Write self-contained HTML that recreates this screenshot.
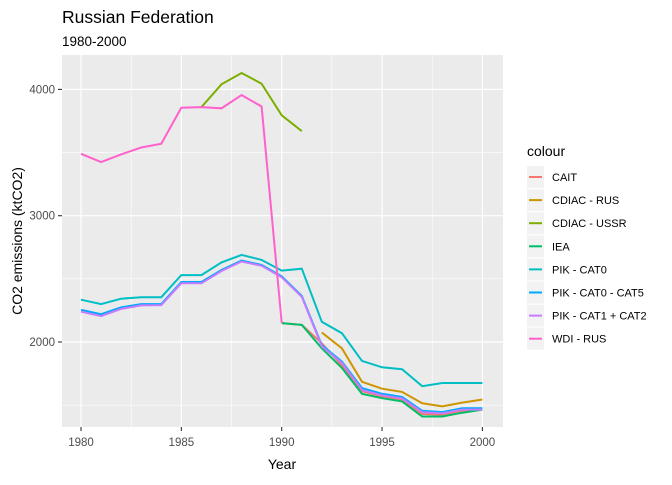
<!DOCTYPE html>
<html><head><meta charset="utf-8"><style>
body{margin:0;background:#fff;font-family:"Liberation Sans",Arial,sans-serif;}
svg text{font-family:"Liberation Sans",Arial,sans-serif;}
</style></head><body>
<svg id="chart" width="672" height="480">
<rect width="672" height="480" fill="#fff"/>
<text x="62" y="23" font-size="17.5" fill="#000">Russian Federation</text>
<text x="62" y="46" font-size="13.5" fill="#000">1980-2000</text>
<rect x="62" y="55" width="441" height="372" fill="#ebebeb"/>
<g id="grid"></g>
<g id="lines"></g>
<g id="axes"></g>
<text x="282" y="469" font-size="14" text-anchor="middle" fill="#000">Year</text>
<text transform="translate(22,241) rotate(-90)" font-size="14" text-anchor="middle" fill="#000">CO2 emissions (ktCO2)</text>
<g id="legend"></g>
</svg>
<script>
const series = ["CAIT","CDIAC - RUS","CDIAC - USSR","IEA","PIK - CAT0","PIK - CAT0 - CAT5","PIK - CAT1 + CAT2","WDI - RUS"];
const colors = ["#F8766D","#CD9600","#7CAE00","#00BE67","#00BFC4","#00A9FF","#C77CFF","#FF61CC"];
const xTicks = [1980,1985,1990,1995,2000];
const yTicks = [2000,3000,4000];
const caitYears = [1990,1991,1992,1993,1994,1995,1996,1997,1998,1999,2000];
const caitVals = [2150,2135,1990,1815,1610,1570,1545,1430,1425,1455,1470];
const cdiacRusYears = [1992,1993,1994,1995,1996,1997,1998,1999,2000];
const cdiacRusVals = [2075,1950,1685,1630,1605,1515,1490,1520,1545];
const cdiacUssrYears = [1986,1987,1988,1989,1990,1991];
const cdiacUssrVals = [3860,4040,4130,4045,3795,3670];
const ieaYears = [1990,1991,1992,1993,1994,1995,1996,1997,1998,1999,2000];
const ieaVals = [2150,2135,1950,1795,1590,1555,1530,1410,1410,1440,1465];
const allYears = [1980,1981,1982,1983,1984,1985,1986,1987,1988,1989,1990,1991,1992,1993,1994,1995,1996,1997,1998,1999,2000];
const cat0Vals = [2335,2300,2343,2355,2355,2530,2530,2630,2690,2650,2565,2580,2160,2070,1850,1800,1785,1650,1675,1675,1675];
const cat05Vals = [2255,2220,2275,2300,2300,2475,2475,2570,2645,2610,2520,2365,1975,1845,1635,1590,1565,1455,1445,1475,1475];
const cat12Vals = [2240,2205,2262,2290,2292,2465,2465,2562,2637,2603,2512,2357,1965,1835,1620,1578,1553,1445,1435,1465,1465];
const wdiYears = [1980,1981,1982,1983,1984,1985,1986,1987,1988,1989,1990];
const wdiVals = [3490,3425,3485,3540,3570,3855,3860,3850,3955,3865,2153];
const data = [[caitYears,caitVals],[cdiacRusYears,cdiacRusVals],[cdiacUssrYears,cdiacUssrVals],[ieaYears,ieaVals],[allYears,cat0Vals],[allYears,cat05Vals],[allYears,cat12Vals],[wdiYears,wdiVals]];

const X = y => 81 + (y-1980)*20.07;
const Y = v => 342 - (v-2000)*0.1263;
const NS="http://www.w3.org/2000/svg";
function mk(t,a,p){const e=document.createElementNS(NS,t);for(const k in a)e.setAttribute(k,a[k]);p.appendChild(e);return e;}
const grid=document.getElementById('grid'),axes=document.getElementById('axes'),lines=document.getElementById('lines'),leg=document.getElementById('legend');
for(let v=1500;v<=4000;v+=500){const l=mk('line',{x1:62,x2:503,y1:Y(v),y2:Y(v),stroke:'#fff','stroke-width':v%1000?0.6:1.2},grid);

}
for(let y=1980;y<=2000;y+=2.5){const l=mk('line',{y1:55,y2:427,x1:X(y),x2:X(y),stroke:'#fff','stroke-width':y%5?0.6:1.2},grid);

}
xTicks.forEach(t=>{mk('line',{x1:X(t),x2:X(t),y1:427,y2:431,stroke:'#333','stroke-width':1.1},axes);
const tx=mk('text',{x:X(t),y:446,'font-size':11.5,fill:'#4d4d4d','text-anchor':'middle'},axes);tx.textContent=t;

});
yTicks.forEach(t=>{mk('line',{x1:58,x2:62,y1:Y(t),y2:Y(t),stroke:'#333','stroke-width':1.1},axes);
const tx=mk('text',{x:55,y:Y(t)+4,'font-size':11.5,fill:'#4d4d4d','text-anchor':'end'},axes);tx.textContent=t;

});
data.forEach((d,i)=>{const pts=d[0].map((y,j)=>X(y).toFixed(1)+','+Y(d[1][j]).toFixed(1)).join(' ');
const p=mk('polyline',{points:pts,fill:'none',stroke:colors[i],'stroke-width':2},lines);

});
const lt=mk('text',{x:527,y:156,'font-size':14,fill:'#000'},leg);lt.textContent='colour';


series.forEach((s,i)=>{const cy=177+i*23.1;
const g=mk('g',{},leg);


mk('rect',{x:527,y:cy-11,width:17,height:22,fill:'#f2f2f2'},g);
mk('line',{x1:529,x2:542,y1:cy,y2:cy,stroke:colors[i],'stroke-width':2},g);
const t=mk('text',{x:552,y:cy+4,'font-size':11,fill:'#000'},g);t.textContent=s;});
</script>
</body></html>
